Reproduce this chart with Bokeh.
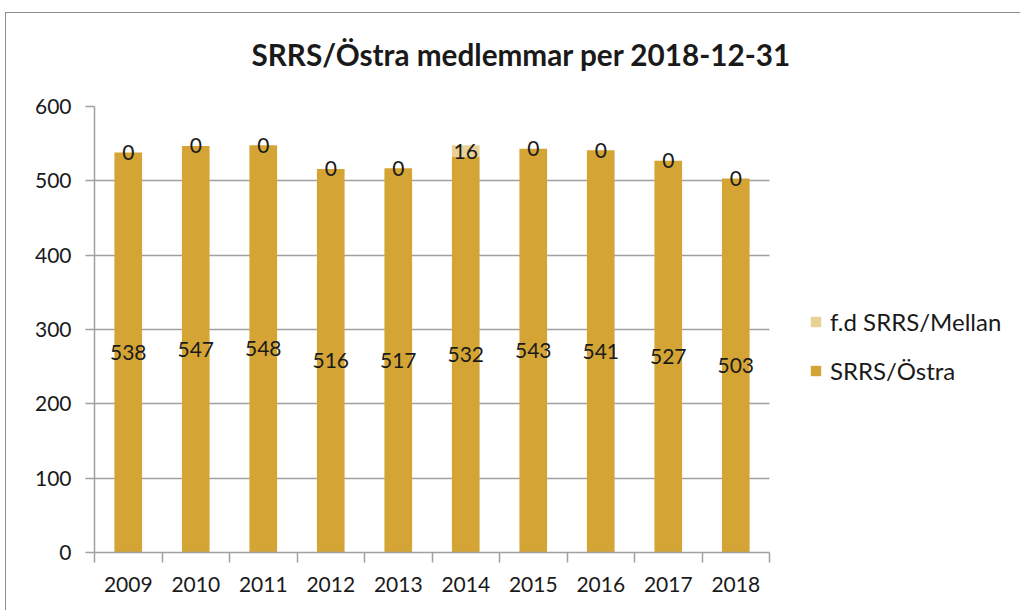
from bokeh.plotting import figure
from bokeh.models import (ColumnDataSource, Range1d, FixedTicker, LabelSet, Legend, LegendItem, Title)
from bokeh.core.properties import value
from bokeh.embed import file_html
from bokeh.resources import INLINE

years = ["2009", "2010", "2011", "2012", "2013", "2014", "2015", "2016", "2017", "2018"]
ostra = [538, 547, 548, 516, 517, 532, 543, 541, 527, 503]
mellan = [0, 0, 0, 0, 0, 16, 0, 0, 0, 0]
y_ticks = [0, 100, 200, 300, 400, 500, 600]

FONT = "Lato"
DARK = "#D4A535"
LIGHT = "#E9D196"

n = len(years)
xs = [i + 0.5 for i in range(n)]
src = ColumnDataSource(dict(
    x=xs,
    ostra=ostra,
    mellan=mellan,
    total=[a + b for a, b in zip(ostra, mellan)],
    ostra_mid=[a / 2 for a in ostra],
    mellan_mid=[a + b / 2 for a, b in zip(ostra, mellan)],
    ostra_txt=[str(v) for v in ostra],
    mellan_txt=[str(v) for v in mellan],
))

# frame spans to the right edge so the legend (inside the frame) is not clipped;
# the category area occupies 675 of the 927 px frame width
FRAME_W = 927
CAT_W = 675
x_end = n * FRAME_W / CAT_W

p = figure(width=1015, height=598, output_backend="svg", toolbar_location=None,
           x_range=Range1d(0, x_end), y_range=Range1d(0, 600),
           min_border_left=88, min_border_right=0, min_border_top=93, min_border_bottom=59)
p.margin = (12, 0, 0, 5)
p.styles = {"border-left": "1.5px solid #8c8c8c", "border-top": "1.5px solid #8c8c8c"}
p.outline_line_color = None
p.background_fill_color = "white"
p.border_fill_color = "white"

r_ostra = p.vbar(x="x", bottom=0, top="ostra", width=0.41, source=src, fill_color=DARK, line_color=None)
r_mellan = p.vbar(x="x", bottom="ostra", top="total", width=0.41, source=src, fill_color=LIGHT, line_color=None)

p.add_layout(LabelSet(x="x", y="ostra_mid", text="ostra_txt", source=src, text_align="center",
                      text_baseline="middle", text_font=value(FONT), text_font_size="21px",
                      text_color="#1a1a1a"))
p.add_layout(LabelSet(x="x", y="mellan_mid", text="mellan_txt", source=src, text_align="center",
                      text_baseline="middle", text_font=value(FONT), text_font_size="21px",
                      text_color="#1a1a1a"))

# axes
p.xaxis.bounds = (0, n)
p.xaxis.ticker = FixedTicker(ticks=xs, minor_ticks=list(range(n + 1)))
p.xaxis.major_label_overrides = {x: y for x, y in zip(xs, years)}
p.xaxis.major_tick_out = 0
p.xaxis.major_tick_in = 0
p.xaxis.minor_tick_out = 10
p.xaxis.minor_tick_in = 0
p.xaxis.minor_tick_line_color = "#a0a0a0"
p.xaxis.minor_tick_line_width = 1.5
p.xaxis.axis_line_color = "#a0a0a0"
p.xaxis.axis_line_width = 1.5
p.xaxis.major_label_standoff = 14
p.xaxis.major_label_text_font = FONT
p.xaxis.major_label_text_font_size = "21px"
p.xaxis.major_label_text_color = "#1a1a1a"

p.yaxis.ticker = FixedTicker(ticks=y_ticks)
p.yaxis.major_tick_out = 9
p.yaxis.major_tick_in = 0
p.yaxis.minor_tick_out = 0
p.yaxis.minor_tick_in = 0
p.yaxis.major_tick_line_color = "#a0a0a0"
p.yaxis.major_tick_line_width = 1.5
p.yaxis.axis_line_color = "#a0a0a0"
p.yaxis.axis_line_width = 1.5
p.yaxis.major_label_standoff = 14
p.yaxis.major_label_text_font = FONT
p.yaxis.major_label_text_font_size = "21px"
p.yaxis.major_label_text_color = "#1a1a1a"

p.xgrid.visible = False
p.ygrid.ticker = FixedTicker(ticks=y_ticks)
p.ygrid.grid_line_color = "#a0a0a0"
p.ygrid.grid_line_width = 1.5
p.ygrid.cross_bounds = (0, n)

# second (blank) line lifts the title above the plot area
p.title = Title(text="SRRS/Östra medlemmar per 2018-12-31\n ", align="left", offset=157,
                text_font=FONT, text_font_style="bold", text_font_size="29.7px",
                text_color="#1a1a1a", standoff=0)

legend = Legend(items=[LegendItem(label="f.d SRRS/Mellan", renderers=[r_mellan]),
                       LegendItem(label="SRRS/Östra", renderers=[r_ostra])],
                location=(715, 167), orientation="vertical",
                glyph_width=13, glyph_height=13, label_text_font=FONT, label_text_font_size="24px",
                label_text_color="#1a1a1a", spacing=20, label_standoff=8,
                border_line_color=None, background_fill_alpha=0, padding=0, margin=0)
p.add_layout(legend, "center")

open("out.html", "w").write(file_html(p, INLINE))
